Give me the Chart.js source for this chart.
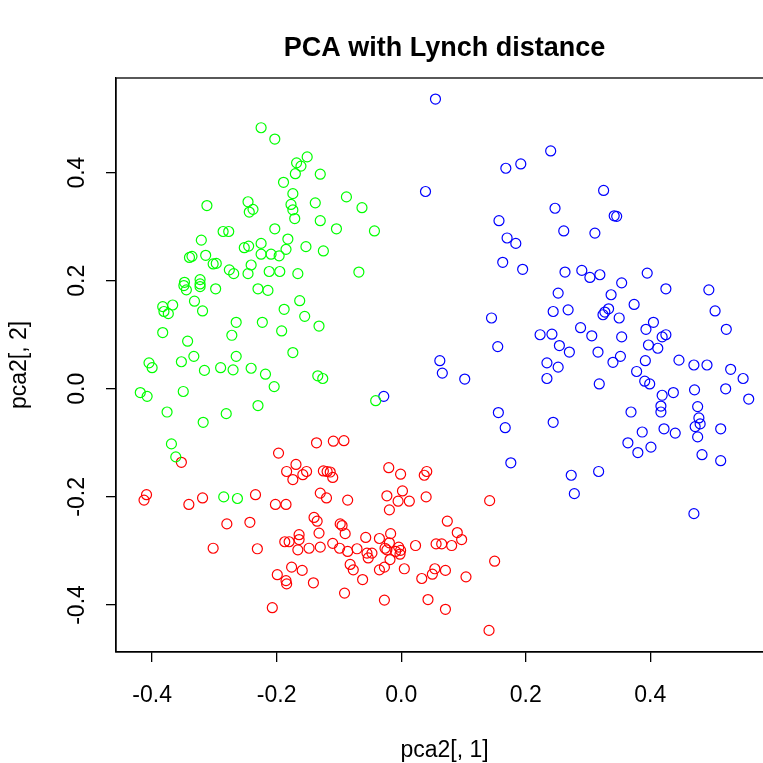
<!DOCTYPE html>
<html>
<head>
<meta charset="utf-8">
<script src="https://cdn.jsdelivr.net/npm/chart.js@4"></script>
<style>
  html, body { margin: 0; padding: 0; background: #fff; overflow: hidden; }
  canvas { display: block; }
</style>
</head>
<body>
<canvas id="pcaCanvas" width="800" height="763"></canvas>
<script>
//Chart data
const chartTitle = 'PCA with Lynch distance'
const xAxisTitle = 'pca2[, 1]'
const yAxisTitle = 'pca2[, 2]'

const xTicks = [-0.4, -0.2, 0.0, 0.2, 0.4]
const yTicks = [-0.4, -0.2, 0.0, 0.2, 0.4]
const xLimits = [-0.458, 0.597]
const yLimits = [-0.487, 0.575]

const greenX = [
    -0.225,-0.203,-0.151,-0.168,-0.161,-0.170,-0.130,-0.189,-0.174,-0.246,
    -0.312,-0.177,-0.138,-0.238,-0.244,-0.174,-0.171,-0.130,-0.203,-0.286,
    -0.277,-0.104,-0.043,-0.088,-0.063,-0.068,-0.321,-0.182,-0.252,-0.245,
    -0.225,-0.153,-0.185,-0.125,-0.209,-0.196,-0.225,-0.314,-0.340,-0.336,
    -0.302,-0.297,-0.241,-0.276,-0.269,-0.246,-0.212,-0.195,-0.166,-0.348,
    -0.349,-0.345,-0.323,-0.323,-0.323,-0.298,-0.230,-0.214,-0.383,-0.367,
    -0.381,-0.374,-0.332,-0.319,-0.163,-0.188,-0.155,-0.132,-0.265,-0.223,
    -0.192,-0.272,-0.383,-0.343,-0.174,-0.405,-0.400,-0.353,-0.333,-0.265,
    -0.316,-0.290,-0.270,-0.241,-0.218,-0.204,-0.134,-0.126,-0.419,-0.408,
    -0.350,-0.376,-0.318,-0.281,-0.230,-0.369,-0.362,-0.285,-0.263,-0.041
]
const greenY = [
    0.483,0.462,0.429,0.418,0.412,0.398,0.397,0.382,0.361,0.346,
    0.339,0.341,0.344,0.332,0.327,0.331,0.315,0.311,0.296,0.291,
    0.291,0.296,0.292,0.355,0.335,0.216,0.275,0.277,0.261,0.264,
    0.269,0.263,0.258,0.255,0.249,0.246,0.249,0.247,0.243,0.245,
    0.231,0.232,0.229,0.220,0.213,0.213,0.217,0.217,0.213,0.197,
    0.191,0.183,0.202,0.194,0.189,0.185,0.185,0.182,0.152,0.155,
    0.143,0.139,0.162,0.144,0.163,0.147,0.134,0.116,0.123,0.123,
    0.107,0.099,0.104,0.088,0.067,0.048,0.039,0.050,0.060,0.060,
    0.034,0.039,0.035,0.038,0.027,0.004,0.024,0.019,-0.007,-0.014,
    -0.005,-0.043,-0.062,-0.046,-0.031,-0.102,-0.126,-0.200,-0.203,-0.022
]

const redX = [
    -0.353,-0.197,-0.136,-0.109,-0.092,-0.169,-0.184,-0.174,-0.158,-0.152,
    -0.125,-0.119,-0.114,-0.110,-0.130,-0.120,-0.409,-0.413,-0.319,-0.341,
    -0.234,-0.202,-0.185,-0.280,-0.243,-0.140,-0.135,-0.132,-0.164,-0.164,
    -0.187,-0.180,-0.166,-0.148,-0.130,-0.110,-0.099,-0.302,-0.231,-0.176,
    -0.159,-0.199,-0.185,-0.184,-0.141,-0.207,-0.098,-0.095,-0.090,-0.086,
    -0.071,-0.057,-0.035,-0.017,-0.019,-0.055,-0.047,-0.053,-0.026,-0.023,
    -0.004,-0.001,-0.002,-0.009,-0.018,0.023,0.056,0.065,0.081,0.097,
    0.090,0.074,-0.082,-0.077,-0.062,-0.035,-0.027,0.005,0.033,0.050,
    0.054,0.071,0.104,0.150,-0.091,-0.027,0.043,0.071,0.141,-0.020,
    -0.001,0.037,0.041,-0.086,-0.023,0.002,-0.005,0.013,-0.019,0.040,
    0.142
]
const redY = [
    -0.136,-0.119,-0.100,-0.097,-0.096,-0.140,-0.153,-0.168,-0.159,-0.153,
    -0.152,-0.153,-0.154,-0.164,-0.193,-0.202,-0.196,-0.206,-0.202,-0.214,
    -0.196,-0.214,-0.214,-0.250,-0.247,-0.238,-0.245,-0.267,-0.270,-0.279,
    -0.283,-0.283,-0.298,-0.295,-0.293,-0.286,-0.295,-0.295,-0.296,-0.330,
    -0.336,-0.344,-0.355,-0.361,-0.359,-0.405,-0.250,-0.253,-0.268,-0.301,
    -0.296,-0.275,-0.277,-0.268,-0.285,-0.304,-0.304,-0.313,-0.295,-0.298,
    -0.293,-0.299,-0.306,-0.301,-0.316,-0.290,-0.287,-0.287,-0.290,-0.279,
    -0.266,-0.245,-0.325,-0.335,-0.353,-0.335,-0.330,-0.333,-0.351,-0.343,
    -0.333,-0.336,-0.348,-0.319,-0.378,-0.391,-0.390,-0.408,-0.447,-0.146,
    -0.158,-0.160,-0.153,-0.206,-0.198,-0.189,-0.208,-0.208,-0.224,-0.200,
    -0.207
]

const blueX = [
    0.055,0.039,0.168,0.192,0.157,0.240,0.325,0.247,0.342,0.346,
    0.261,0.311,0.170,0.184,0.163,0.195,0.145,0.155,0.062,0.223,
    0.242,0.244,0.234,0.066,0.263,0.290,0.303,0.319,0.395,0.354,
    0.252,0.337,0.425,0.494,0.268,0.324,0.327,0.333,0.350,0.374,
    0.504,0.288,0.306,0.354,0.393,0.405,0.419,0.425,0.522,0.254,
    0.270,0.316,0.397,0.412,0.352,0.340,0.392,0.446,0.470,0.491,
    0.529,0.252,0.234,0.378,0.549,0.521,0.558,0.318,0.391,0.399,
    0.419,0.437,0.471,0.417,0.417,0.476,0.369,0.478,0.480,0.472,
    0.244,0.422,0.440,0.387,0.513,0.476,0.364,0.380,0.401,0.483,
    0.513,0.273,0.317,0.278,0.470,0.102,-0.028,0.156,0.167,0.176
]
const blueY = [
    0.536,0.365,0.408,0.416,0.311,0.440,0.367,0.334,0.320,0.319,
    0.292,0.288,0.279,0.269,0.234,0.221,0.131,0.078,0.052,0.100,
    0.101,0.143,0.048,0.029,0.216,0.219,0.206,0.211,0.214,0.196,
    0.177,0.174,0.185,0.183,0.146,0.137,0.142,0.148,0.131,0.156,
    0.144,0.113,0.098,0.096,0.110,0.123,0.096,0.100,0.110,0.080,
    0.068,0.068,0.081,0.075,0.060,0.049,0.052,0.053,0.044,0.044,
    0.036,0.040,0.019,0.032,0.019,0.000,-0.019,0.009,0.014,0.009,
    -0.012,-0.007,-0.002,-0.032,-0.043,-0.033,-0.043,-0.054,-0.065,-0.070,
    -0.062,-0.074,-0.082,-0.080,-0.074,-0.089,-0.100,-0.118,-0.108,-0.122,
    -0.133,-0.160,-0.153,-0.194,-0.231,0.018,-0.014,-0.044,-0.072,-0.137
]

const seriesColors = ['#00ff00', '#ff0000', '#0000ff']



//Helpers
const toPoints = (xs, ys) => xs.map((x, i) => ({x: x, y: ys[i]}))

function makeDataset(xs, ys, color)
{
    return {
        data: toPoints(xs, ys),
        borderColor: color,
        backgroundColor: 'rgba(0,0,0,0)',
        pointStyle: 'circle',
        pointRadius: 5,
        pointBorderWidth: 1.2,
        pointHoverRadius: 5
    }
}

// box round the plot region, like R's box()
const plotBox = {
    id: 'plotBox',
    afterDraw(chart)
    {
        const {ctx, chartArea} = chart
        ctx.save()
        ctx.strokeStyle = '#000'
        ctx.lineWidth = 1.3
        ctx.strokeRect(chartArea.left, chartArea.top, chartArea.right - chartArea.left, chartArea.bottom - chartArea.top)
        ctx.restore()
    }
}

const fontFamily = '"Liberation Sans", Arial, Helvetica, sans-serif'
Chart.defaults.font.family = fontFamily
Chart.defaults.color = '#000'



//Create the chart
const pcaCanvas = document.getElementById('pcaCanvas')
const pcaChart = new Chart(
    pcaCanvas,
    {
        type: 'scatter',
        data:
        {
            datasets:
            [
                makeDataset(greenX, greenY, seriesColors[0]),
                makeDataset(redX, redY, seriesColors[1]),
                makeDataset(blueX, blueY, seriesColors[2])
            ]
        },
        plugins: [plotBox],
        options:
        {
            responsive: false,
            animation: false,
            layout:
            {
                padding: {top: 0, left: 0, right: 27, bottom: 0}
            },
            scales:
            {
                x:
                {
                    type: 'linear',
                    min: xLimits[0],
                    max: xLimits[1],
                    afterBuildTicks: scale => { scale.ticks = xTicks.map(v => ({value: v})) },
                    afterFit: scale => { scale.height = 111 },
                    grid: {drawOnChartArea: false, drawTicks: true, tickLength: 10, color: '#000', lineWidth: 1.3},
                    border: {display: true, color: '#000', width: 1.3},
                    ticks:
                    {
                        padding: 20,
                        maxRotation: 0,
                        autoSkip: false,
                        font: {size: 23},
                        callback: v => v.toFixed(1)
                    },
                    title:
                    {
                        display: true,
                        text: xAxisTitle,
                        font: {size: 23, lineHeight: 1},
                        padding: {top: 0, bottom: 1}
                    }
                },
                y:
                {
                    type: 'linear',
                    min: yLimits[0],
                    max: yLimits[1],
                    afterBuildTicks: scale => { scale.ticks = yTicks.map(v => ({value: v})) },
                    afterFit: scale => { scale.width = 116 },
                    grid: {drawOnChartArea: false, drawTicks: true, tickLength: 10, color: '#000', lineWidth: 1.3},
                    border: {display: true, color: '#000', width: 1.3},
                    ticks:
                    {
                        padding: 9,
                        minRotation: 90,
                        maxRotation: 90,
                        crossAlign: 'center',
                        autoSkip: false,
                        font: {size: 23},
                        callback: v => v.toFixed(1)
                    },
                    title:
                    {
                        display: true,
                        text: yAxisTitle,
                        font: {size: 23, lineHeight: 1},
                        padding: {top: 8, bottom: 0}
                    }
                }
            },
            plugins:
            {
                legend: {display: false},
                tooltip: {enabled: false},
                title:
                {
                    display: true,
                    fullSize: false,
                    text: chartTitle,
                    color: '#000',
                    font: {size: 27, weight: 'bold', lineHeight: 1.2},
                    padding: {top: 32, bottom: 13.6}
                }
            }
        }
    }
);
</script>
</body>
</html>
